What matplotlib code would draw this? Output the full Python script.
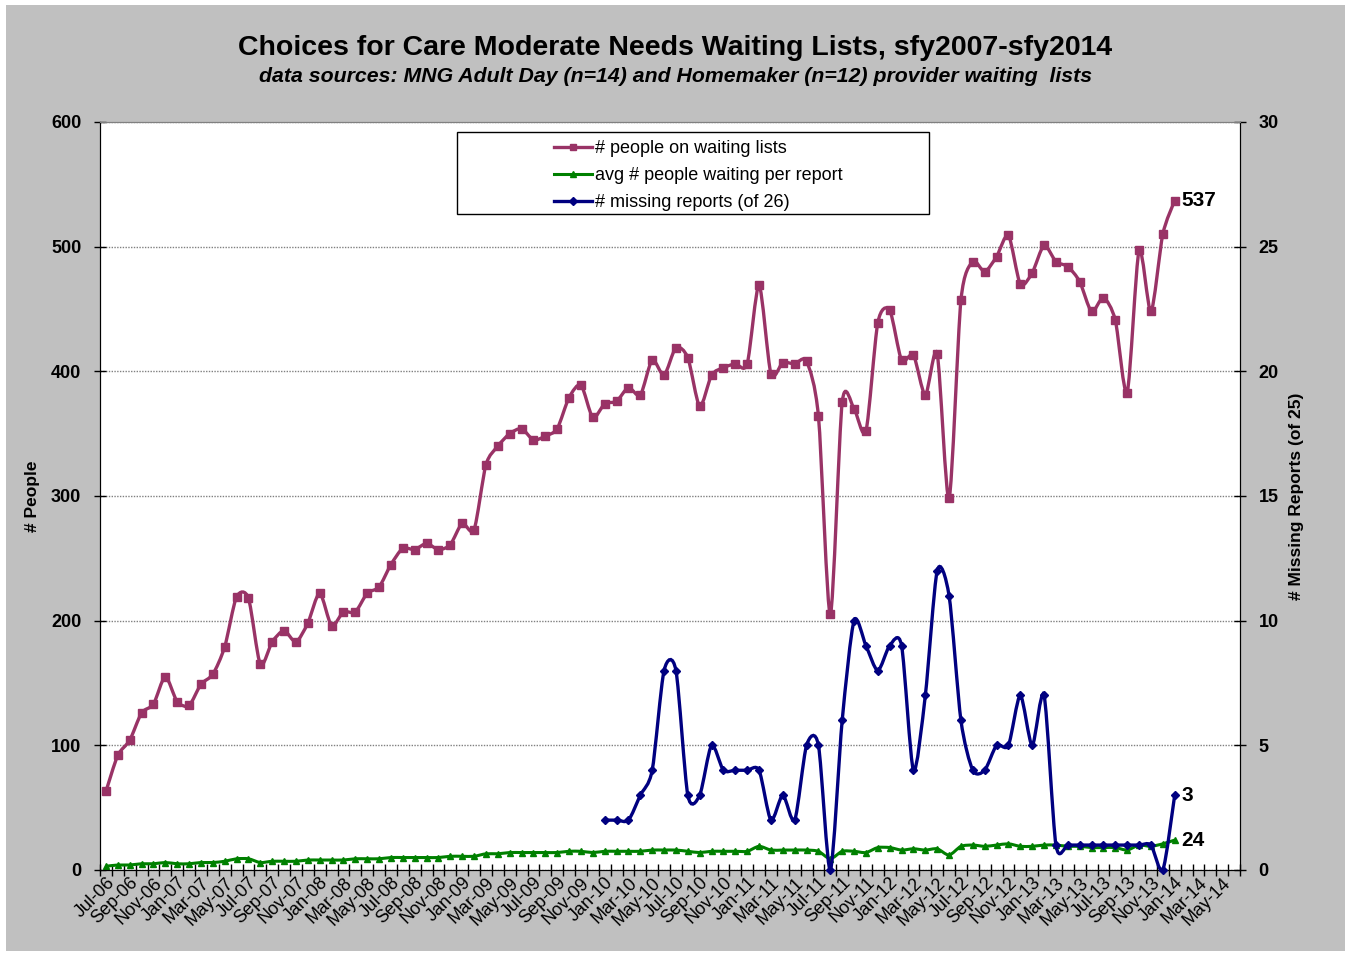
import matplotlib
matplotlib.use("Agg")
import matplotlib.pyplot as plt
import numpy as np
import pandas as pd
from matplotlib.lines import Line2D
from matplotlib.patches import PathPatch, Rectangle
from matplotlib.path import Path

plt.rcParams["font.family"] = ["Liberation Sans", "DejaVu Sans"]

# month categories on the x axis (Jul-06 .. Jun-14)
months = list(pd.date_range("2006-07-01", periods=96, freq="MS").strftime("%b-%y"))

# people on waiting lists, Jul-06 .. Jan-14
waiting = [63, 92, 104, 126, 133, 155, 135, 132, 149, 157,
           179, 219, 218, 165, 183, 192, 183, 198, 222, 196,
           207, 207, 222, 227, 245, 258, 257, 262, 257, 261,
           278, 273, 325, 340, 350, 354, 345, 348, 354, 379,
           389, 363, 374, 376, 387, 381, 409, 397, 419, 411,
           372, 397, 403, 406, 406, 469, 398, 407, 406, 408,
           364, 205, 375, 370, 352, 439, 449, 409, 413, 381,
           414, 298, 457, 488, 480, 492, 509, 470, 479, 501,
           488, 484, 472, 448, 459, 441, 383, 497, 448, 510,
           537]

# avg people waiting per report, Jul-06 .. Jan-14
avg_waiting = [3, 4, 4, 5, 5, 6, 5, 5, 6, 6,
               7, 9, 9, 6, 7, 7, 7, 8, 8, 8,
               8, 9, 9, 9, 10, 10, 10, 10, 10, 11,
               11, 11, 13, 13, 14, 14, 14, 14, 14, 15,
               15, 14, 15, 15, 15, 15, 16, 16, 16, 15,
               14, 15, 15, 15, 15, 19, 16, 16, 16, 16,
               15, 9, 15, 15, 14, 18, 18, 16, 17, 16,
               17, 12, 19, 20, 19, 20, 21, 19, 19, 20,
               20, 19, 19, 18, 18, 18, 16, 20, 19, 21,
               24]

# missing reports, Jan-10 .. Jan-14
missing_start = "Jan-10"
missing = [2, 2, 2, 3, 4, 8, 8, 3,
           3, 5, 4, 4, 4, 4, 2, 3, 2, 5,
           5, 0, 6, 10, 9, 8, 9, 9, 4, 7,
           12, 11, 6, 4, 4, 5, 5, 7, 5, 7,
           1, 1, 1, 1, 1, 1, 1, 1, 1, 0,
           3]

PINK = "#993366"
GREEN = "#008000"
NAVY = "#000080"


def smooth_path(x, y, k=0.13):
    # excel style smoothed line: cubic bezier through every point
    n = len(x)
    verts = [(x[0], y[0])]
    codes = [Path.MOVETO]
    for i in range(n - 1):
        xp, yp = (x[i - 1], y[i - 1]) if i > 0 else (x[i], y[i])
        xn, yn = (x[i + 2], y[i + 2]) if i + 2 < n else (x[i + 1], y[i + 1])
        c1 = (x[i] + (x[i + 1] - xp) * k, y[i] + (y[i + 1] - yp) * k)
        c2 = (x[i + 1] - (xn - x[i]) * k, y[i + 1] - (yn - y[i]) * k)
        verts += [c1, c2, (x[i + 1], y[i + 1])]
        codes += [Path.CURVE4] * 3
    return Path(verts, codes)


W, H = 1351, 956
fig = plt.figure(figsize=(W / 100, H / 100), dpi=100, facecolor="white")
fig.patches.append(Rectangle((6 / W, 5 / H), 1 - 12 / W, 1 - 10 / H,
                             transform=fig.transFigure, facecolor="#C0C0C0",
                             edgecolor="none", zorder=-10))

ax = fig.add_axes([100 / W, 1 - 870 / H, 1140 / W, 748 / H])
ax2 = ax.twinx()

x_all = np.arange(len(waiting))
x_miss = np.arange(len(missing)) + months.index(missing_start)

ax.add_patch(PathPatch(smooth_path(x_all, np.array(waiting, float)), fill=False,
                       edgecolor=PINK, lw=2.4, zorder=3, capstyle="round"))
ax.plot(x_all, waiting, ls="none", marker="s", ms=5.5, color=PINK, zorder=4)

ax.add_patch(PathPatch(smooth_path(x_all, np.array(avg_waiting, float)), fill=False,
                       edgecolor=GREEN, lw=2.2, zorder=3))
ax.plot(x_all, avg_waiting, ls="none", marker="^", ms=5, color=GREEN, zorder=4)

ax2.add_patch(PathPatch(smooth_path(x_miss, np.array(missing, float)), fill=False,
                        edgecolor=NAVY, lw=2.4, zorder=3, clip_on=False))
ax2.plot(x_miss, missing, ls="none", marker="D", ms=4, color=NAVY, zorder=4,
         clip_on=False)

ax.set_xlim(-0.5, len(months) - 0.5)
ax.set_ylim(0, 600)
ax2.set_ylim(0, 30)

ax.set_yticks(range(0, 601, 100))
ax2.set_yticks(range(0, 31, 5))
for a in (ax, ax2):
    a.tick_params(axis="y", direction="inout", length=9, width=1, pad=9,
                  labelsize=13)
    for lab in a.get_yticklabels():
        lab.set_fontweight("bold")

ax.grid(axis="y", color="#808080", ls=(0, (1, 1)), lw=1)
ax.set_axisbelow(True)

# month boundaries as ticks, labels on every other month
ax.set_xticks(np.arange(-0.5, len(months), 1.0))
ax.set_xticklabels([])
ax.tick_params(axis="x", which="major", direction="inout", length=9, width=1)
ax.set_xticks(np.arange(0, len(months), 2), minor=True)
ax.set_xticklabels(months[::2], minor=True, rotation=45, ha="right",
                   rotation_mode="anchor", fontsize=13)
ax.tick_params(axis="x", which="minor", length=0, pad=3)

for s in ("left", "bottom", "right"):
    ax.spines[s].set_color("black")
    ax2.spines[s].set_color("black")
ax.spines["top"].set_color("#808080")
ax2.spines["top"].set_color("#808080")

ax.set_ylabel("# People", fontsize=12.5, fontweight="bold", labelpad=8)
ax2.set_ylabel("# Missing Reports (of 25)", fontsize=12.5, fontweight="bold",
               labelpad=7)

# end-of-series labels
ax.annotate(str(waiting[-1]), (x_all[-1], waiting[-1]), xytext=(5, 0),
            textcoords="offset points", va="center", fontsize=15,
            fontweight="bold")
ax.annotate(str(avg_waiting[-1]), (x_all[-1], avg_waiting[-1]), xytext=(5, 0),
            textcoords="offset points", va="center", fontsize=15,
            fontweight="bold")
ax2.annotate(str(missing[-1]), (x_miss[-1], missing[-1]), xytext=(5, 0),
             textcoords="offset points", va="center", fontsize=15,
             fontweight="bold")

# legend
ax2.add_patch(Rectangle((457 / W, 1 - 214 / H), 472 / W, 82 / H,
                        transform=fig.transFigure, facecolor="white",
                        edgecolor="black", lw=1, zorder=8, clip_on=False))
handles = [Line2D([], [], color=PINK, lw=2.4, marker="s", ms=5),
           Line2D([], [], color=GREEN, lw=2.2, marker="^", ms=5),
           Line2D([], [], color=NAVY, lw=2.4, marker="D", ms=4)]
labels = ["# people on waiting lists", "avg # people waiting per report",
          "# missing reports (of 26)"]
leg = ax2.legend(handles, labels, loc="upper left", frameon=False,
                 bbox_to_anchor=(545 / W, 1 - 131 / H),
                 bbox_transform=fig.transFigure, borderpad=0, fontsize=13,
                 handlelength=2.1, handletextpad=0.15, labelspacing=0.55)
leg.set_zorder(9)

fig.text(0.5, 1 - 48 / H,
         "Choices for Care Moderate Needs Waiting Lists, sfy2007-sfy2014",
         ha="center", va="center", fontsize=20.5, fontweight="bold")
fig.text(0.5, 1 - 77 / H,
         "data sources: MNG Adult Day (n=14) and Homemaker (n=12) provider waiting  lists",
         ha="center", va="center", fontsize=15.3, fontweight="bold", style="italic")

fig.savefig("out.png", dpi=100, facecolor=fig.get_facecolor())
